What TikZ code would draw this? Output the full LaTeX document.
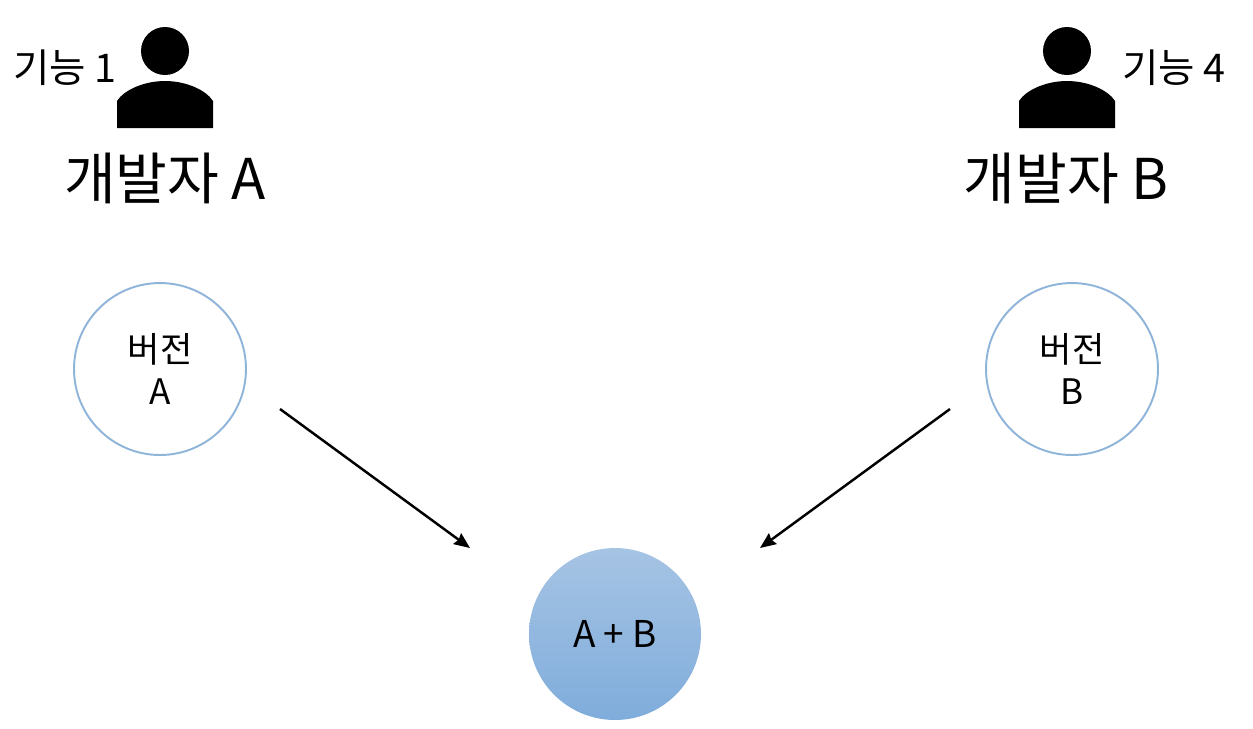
\documentclass[tikz,border=0pt]{standalone}
\usepackage{fontspec}
\setmainfont{Noto Sans CJK KR}
\usepackage{tikz}
\usetikzlibrary{positioning}
\usetikzlibrary{arrows.meta}
\definecolor{ringblue}{HTML}{8FB4D9}
\definecolor{mergetop}{HTML}{A6C4E4}
\definecolor{mergebot}{HTML}{7FACDB}
\tikzset{
    version/.style={circle, draw=ringblue, line width=1.1pt, fill=white, minimum size=3.44cm, inner sep=0pt, align=center, font=\fontsize{20}{24}\selectfont},
    merged/.style={circle, top color=mergetop, bottom color=mergebot, draw=none, minimum size=3.44cm, inner sep=0pt, font=\fontsize{21}{25}\selectfont},
    devname/.style={font=\fontsize{32}{36}\selectfont},
    feature/.style={font=\fontsize{22.5}{26}\selectfont},
    mergeline/.style={-{Stealth[length=9pt,width=7.5pt,inset=1pt]}, line width=1.4pt}
}
\begin{document}
\begin{tikzpicture}[x=0.02cm, y=-0.02cm]
\useasboundingbox (0,0) rectangle (1253,728);

% left developer
\fill (165,51) circle (24);
\fill (117,128) -- (117,101) .. controls (124,90) and (144,81) .. (165,81) .. controls (186,81) and (206,90) .. (213,101) -- (213,128) -- cycle;
\node[feature] (featA) at (65,68) {기능 1};
\node[devname] (devA) at (165,178) {개발자 A};

% right developer
\fill (1067,51) circle (24);
\fill (1019,128) -- (1019,101) .. controls (1026,90) and (1046,81) .. (1067,81) .. controls (1088,81) and (1108,90) .. (1115,101) -- (1115,128) -- cycle;
\node[feature] (featB) at (1174,68) {기능 4};
\node[devname] (devB) at (1066,178) {개발자 B};

\node[version] (verA) at (160,369) {버전\\A};
\node[version] (verB) at (1072,369) {버전\\B};
\node[merged] (sum) at (615,634) {A + B};

\coordinate (fromA) at (280,409);
\coordinate (toA) at (470,548);
\coordinate (fromB) at (950,409);
\coordinate (toB) at (760,548);

\draw [mergeline] (fromA) -- (toA);
\draw [mergeline] (fromB) -- (toB);

\end{tikzpicture}
\end{document}
